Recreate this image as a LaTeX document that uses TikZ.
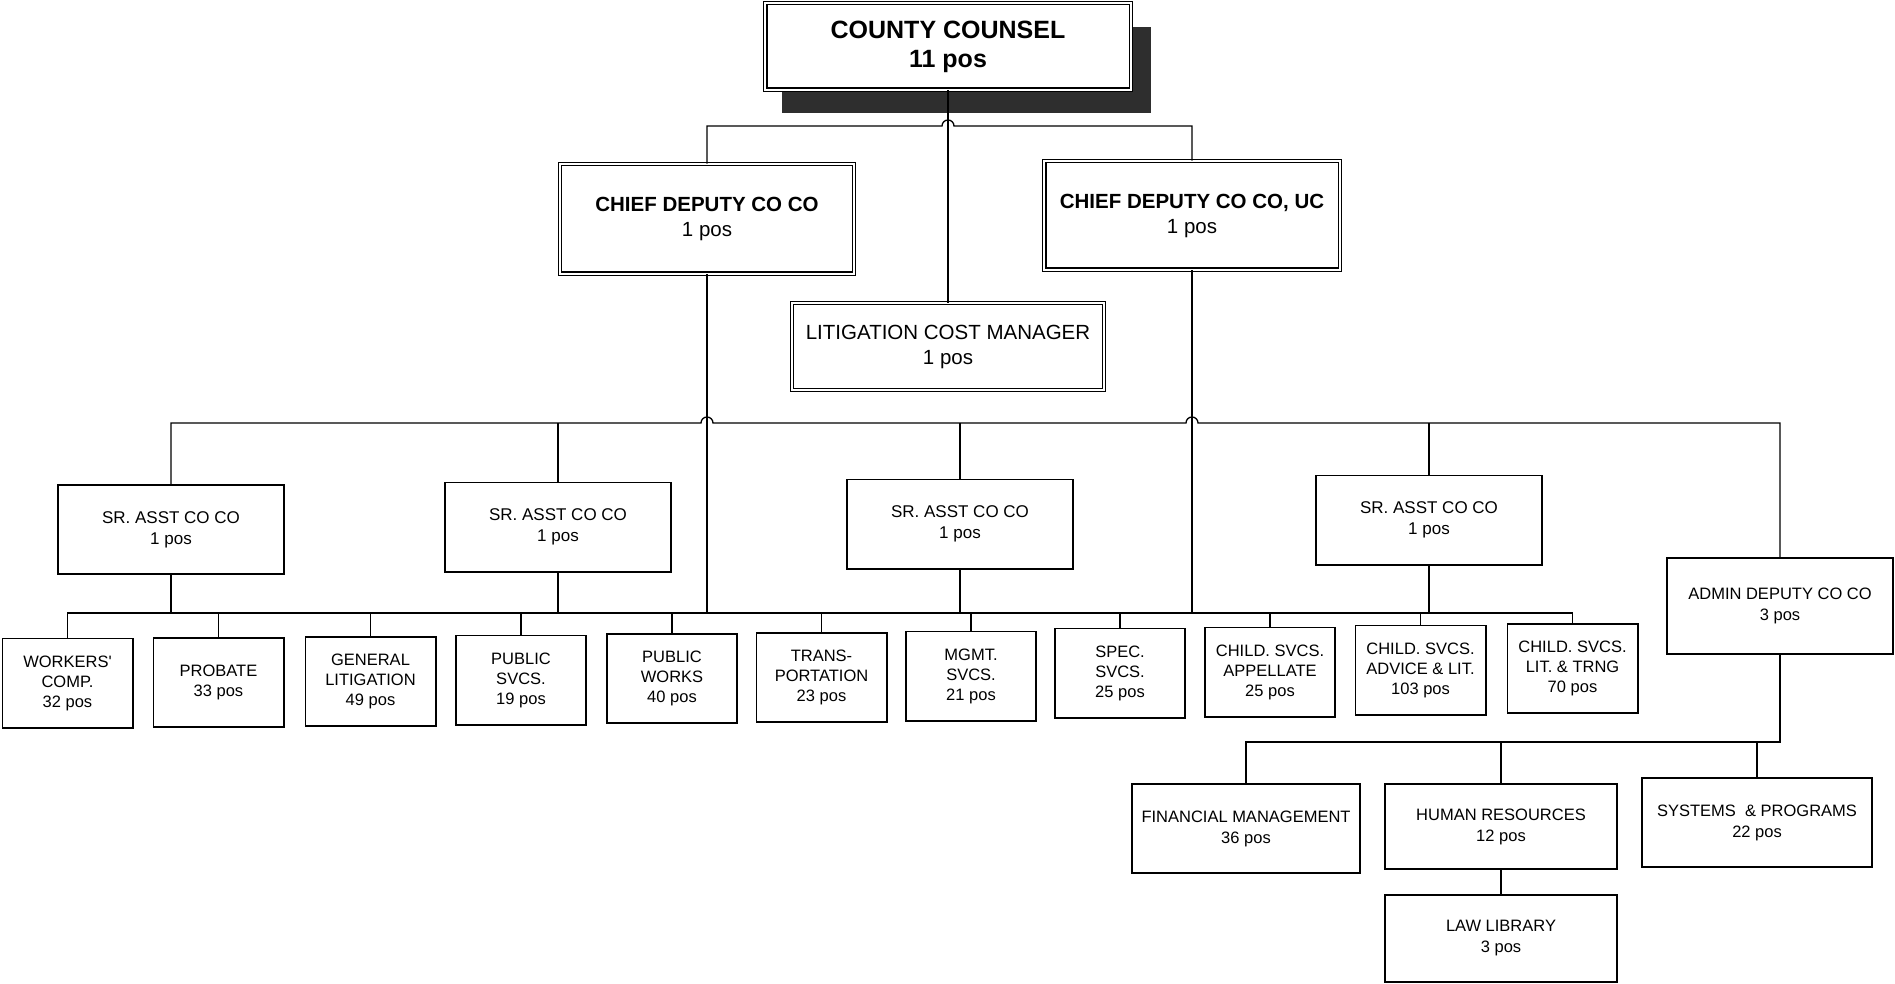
\documentclass[tikz,border=0pt]{standalone}
\usepackage{fontspec}
\setmainfont{Liberation Sans}
\usetikzlibrary{calc}
\begin{document}
\begin{tikzpicture}[x=1pt,y=-1pt,
  link/.style={line width=1.3pt},
  onebox/.style={draw, line width=1.6pt, fill=white, align=center, inner sep=0pt},
  twobox/.style={draw, double, line width=1.1pt, double distance=2.2pt, fill=white, align=center, inner sep=0pt},
  unitbox/.style={onebox, minimum width=130.4pt, minimum height=89.4pt, font=\fontsize{16.5}{20}\selectfont},
  srbox/.style={onebox, minimum width=226.4pt, minimum height=89.4pt, font=\fontsize{17}{21}\selectfont},
  admbox/.style={onebox, font=\fontsize{16.5}{21}\selectfont},
  chiefbox/.style={twobox, font=\fontsize{20.5}{25}\selectfont},
]
\useasboundingbox (0,0) rectangle (1895,984);

% bus levels
\coordinate (busA) at (0,126);
\coordinate (busB) at (0,423);
\coordinate (busC) at (0,613);
\coordinate (busD) at (0,742);

% head of office, with its drop shadow
\fill[black!82] (782,27) rectangle (1151,113);
\node[twobox, minimum width=365.4pt, minimum height=86.4pt,
      font=\bfseries\fontsize{25}{29}\selectfont] (cc) at (948,46.5)
  {COUNTY COUNSEL\\11 pos};

% chief deputies and cost manager
\node[chiefbox, minimum width=294.4pt, minimum height=109.4pt] (cd) at (707,219)
  {\textbf{CHIEF DEPUTY CO CO}\\1 pos};
\node[chiefbox, minimum width=295.4pt, minimum height=108.4pt] (cdu) at (1192,215.5)
  {\textbf{CHIEF DEPUTY CO CO, UC}\\1 pos};
\node[chiefbox, minimum width=312.4pt, minimum height=86.4pt] (lcm) at (948,346.5)
  {LITIGATION COST MANAGER\\1 pos};

% senior assistants and admin deputy
\node[srbox] (sr1) at (171,529.5) {SR. ASST CO CO\\1 pos};
\node[srbox] (sr2) at (558,527) {SR. ASST CO CO\\1 pos};
\node[srbox] (sr3) at (960,524) {SR. ASST CO CO\\1 pos};
\node[srbox] (sr4) at (1429,520) {SR. ASST CO CO\\1 pos};
\node[admbox, minimum width=226.4pt, minimum height=96.4pt] (adm) at (1780,606)
  {ADMIN DEPUTY CO CO\\3 pos};

% legal divisions
\node[unitbox] (b1)  at (67.5,683)   {WORKERS\textquotesingle\\COMP.\\32 pos};
\node[unitbox] (b2)  at (218.5,682.5) {PROBATE\\33 pos};
\node[unitbox] (b3)  at (370.5,681.5) {GENERAL\\LITIGATION\\49 pos};
\node[unitbox] (b4)  at (521,680)    {PUBLIC\\SVCS.\\19 pos};
\node[unitbox] (b5)  at (672,678.5)  {PUBLIC\\WORKS\\40 pos};
\node[unitbox] (b6)  at (821.5,677.5) {TRANS-\\PORTATION\\23 pos};
\node[unitbox] (b7)  at (971,676)    {MGMT.\\SVCS.\\21 pos};
\node[unitbox] (b8)  at (1120,673)   {SPEC.\\SVCS.\\25 pos};
\node[unitbox] (b9)  at (1270,672)   {CHILD. SVCS.\\APPELLATE\\25 pos};
\node[unitbox] (b10) at (1420.5,670) {CHILD. SVCS.\\ADVICE \& LIT.\\103 pos};
\node[unitbox] (b11) at (1572.5,668.5) {CHILD. SVCS.\\LIT. \& TRNG\\70 pos};

% administrative units
\node[admbox, minimum width=228.4pt, minimum height=89.4pt] (fm) at (1246,828.5)
  {FINANCIAL MANAGEMENT\\36 pos};
\node[admbox, minimum width=232.4pt, minimum height=85.4pt] (hr) at (1501,826.5)
  {HUMAN RESOURCES\\12 pos};
\node[admbox, minimum width=230.4pt, minimum height=89.4pt] (sp) at (1757,822.5)
  {SYSTEMS\ \ \& PROGRAMS\\22 pos};
\node[admbox, minimum width=232.4pt, minimum height=87.4pt] (ll) at (1501,938.5)
  {LAW LIBRARY\\3 pos};

% top bus, hopping over the centre line
\draw[link] (cd.north) -- (cd.north |- busA)
  -- ($(cc.south |- busA)+(-6pt,0)$) arc[start angle=180, end angle=0, radius=6pt]
  -- (cdu.north |- busA) -- (cdu.north);
\draw[link] (cc.south) -- (lcm.north);

% second bus, hopping over the chief deputy lines
\draw[link] (sr1.north) -- (sr1.north |- busB)
  -- ($(cd.south |- busB)+(-6pt,0)$) arc[start angle=180, end angle=0, radius=6pt]
  -- ($(cdu.south |- busB)+(-6pt,0)$) arc[start angle=180, end angle=0, radius=6pt]
  -- (adm.north |- busB) -- (adm.north);
\foreach \n in {sr2,sr3,sr4}
  \draw[link] (\n.north) -- (\n.north |- busB);

% division bus
\draw[link] (b1.north) -- (b1.north |- busC) -- (b11.north |- busC) -- (b11.north);
\foreach \n in {b2,b3,b4,b5,b6,b7,b8,b9,b10}
  \draw[link] (\n.north) -- (\n.north |- busC);
\foreach \n in {sr1,sr2,sr3,sr4,cd,cdu}
  \draw[link] (\n.south) -- (\n.south |- busC);

% administrative bus
\draw[link] (adm.south) -- (adm.south |- busD) -- (fm.north |- busD) -- (fm.north);
\foreach \n in {hr,sp}
  \draw[link] (\n.north) -- (\n.north |- busD);
\draw[link] (hr.south) -- (ll.north);
\end{tikzpicture}
\end{document}
